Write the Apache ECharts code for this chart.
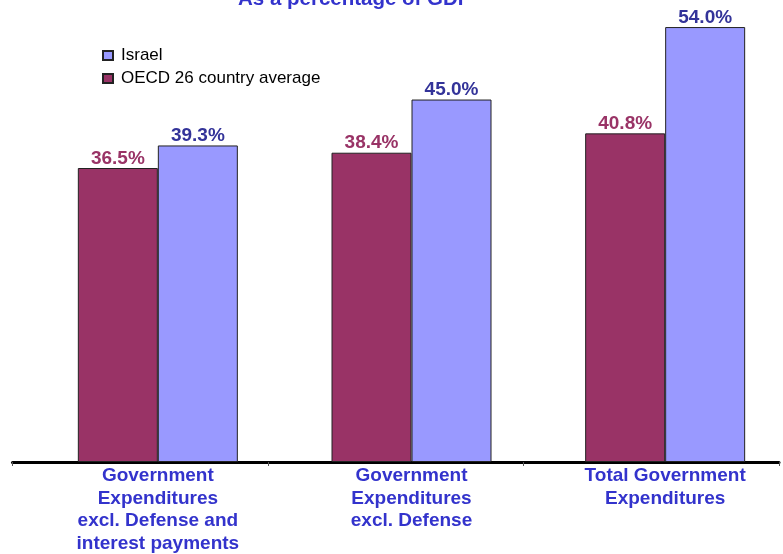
<!DOCTYPE html>
<html>
<head>
<meta charset="utf-8">
<script src="https://cdn.jsdelivr.net/npm/echarts@6/dist/echarts.min.js"></script>
<style>html,body{margin:0;padding:0;background:#fff}#c{width:783px;height:554px}</style>
</head>
<body>
<div id="c"></div>
<script>
var titleText = 'As a percentage of GDP';
var categories = ['Government\nExpenditures\nexcl. Defense and\ninterest payments', 'Government\nExpenditures\nexcl. Defense', 'Total Government\nExpenditures'];
var oecdName = 'OECD 26 country average';
var israelName = 'Israel';
var oecdValues = [36.5, 38.4, 40.8];
var israelValues = [39.3, 45.0, 54.0];

var chart = echarts.init(document.getElementById('c'), null, {renderer: 'canvas'});
var fontFam = 'Arial, "Liberation Sans", Helvetica, sans-serif';
chart.setOption({
  animation: false,
  backgroundColor: '#ffffff',
  title: {
    text: titleText, left: 233, top: -16,
    textStyle: {fontFamily: fontFam, fontSize: 20.5, fontWeight: 'bold', color: '#3333CC'}
  },
  legend: {
    orient: 'vertical', left: 97, top: 42,
    data: [israelName, oecdName],
    itemWidth: 10, itemHeight: 9, itemGap: 6, icon: 'rect',
    textStyle: {fontFamily: fontFam, fontSize: 17, color: '#000', lineHeight: 17, padding: [0, 0, 0, 3]}
  },
  grid: [
    {left: 31, width: 761, top: 19, bottom: 92, outerBoundsMode: 'none'},
    {left: 12.5, width: 766.5, top: 19, bottom: 92, outerBoundsMode: 'none'}
  ],
  xAxis: [
    {type: 'category', gridIndex: 0, data: categories,
     axisLine: {show: false}, axisTick: {show: false},
     axisLabel: {interval: 0, margin: 2.5, fontFamily: fontFam, fontSize: 19, fontWeight: 'bold', color: '#3333CC', lineHeight: 22.6}},
    {type: 'category', gridIndex: 1, data: categories,
     axisLine: {show: true, lineStyle: {color: '#000', width: 3}},
     axisTick: {show: true, length: 4, lineStyle: {color: '#555', width: 1}},
     axisLabel: {show: false}}
  ],
  yAxis: [
    {type: 'value', gridIndex: 0, min: 0, max: 55, show: false, splitLine: {show: false}},
    {type: 'value', gridIndex: 1, min: 0, max: 55, show: false, splitLine: {show: false}}
  ],
  series: [
    {name: oecdName, type: 'bar', xAxisIndex: 0, yAxisIndex: 0, data: oecdValues,
     barWidth: 80, barGap: '0%',
     itemStyle: {color: '#993366', borderColor: '#222', borderWidth: 1},
     label: {show: true, position: 'top', distance: 0, formatter: function(p){return p.value.toFixed(1) + '%';},
             fontFamily: fontFam, fontSize: 19, fontWeight: 'bold', color: '#993366'}},
    {name: israelName, type: 'bar', xAxisIndex: 0, yAxisIndex: 0, data: israelValues,
     barWidth: 80, barGap: '0%',
     itemStyle: {color: '#9999FF', borderColor: '#222', borderWidth: 1},
     label: {show: true, position: 'top', distance: 0, formatter: function(p){return p.value.toFixed(1) + '%';},
             fontFamily: fontFam, fontSize: 19, fontWeight: 'bold', color: '#333399'}}
  ]
});
</script>
</body>
</html>
